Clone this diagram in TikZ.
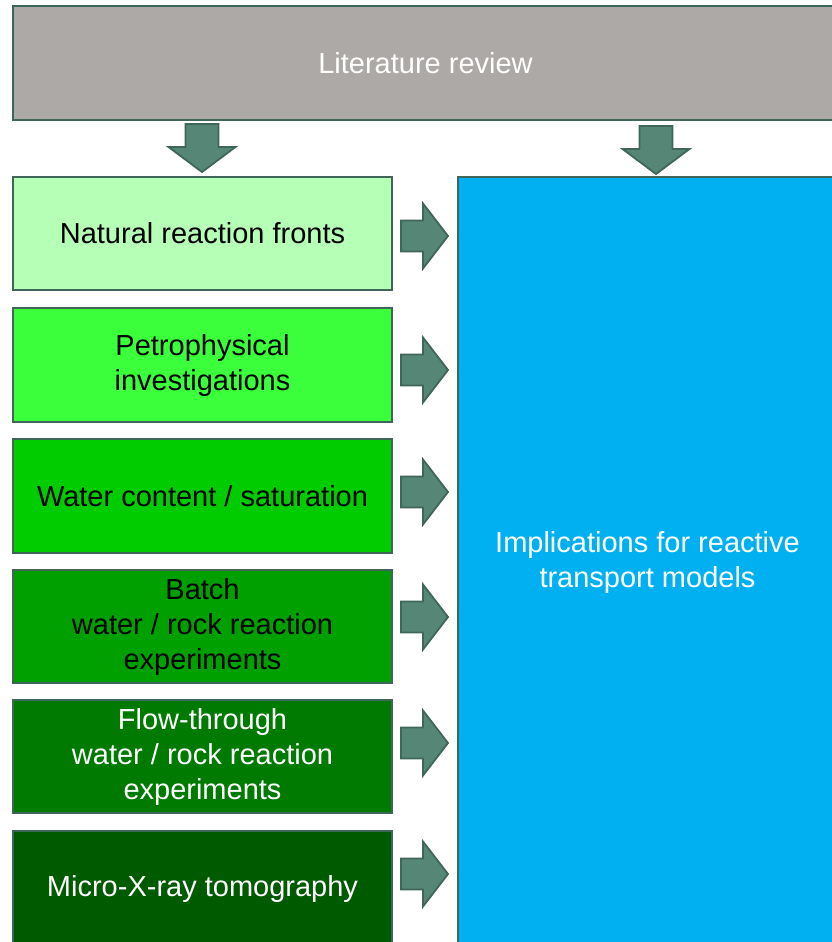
\documentclass[tikz,border=0pt]{standalone}
\usepackage{fontspec}
\setmainfont{Liberation Sans}
\definecolor{edgec}{HTML}{3F6659}
\definecolor{arrowc}{HTML}{558676}
\definecolor{greyc}{HTML}{ADA9A7}
\definecolor{bluec}{HTML}{00B0F0}
\definecolor{ga}{HTML}{B6FFB6}
\definecolor{gb}{HTML}{3AFF3A}
\definecolor{gc}{HTML}{00CC00}
\definecolor{gd}{HTML}{00A000}
\definecolor{ge}{HTML}{007A00}
\definecolor{gf}{HTML}{005A00}
\begin{document}
\begin{tikzpicture}[x=1pt,y=-1pt,
  boxstyle/.style={draw=edgec,line width=2pt,align=center,inner sep=0pt,
    font=\fontsize{29}{35}\selectfont},
  blockarrow/.style={draw=edgec,fill=arrowc,line width=1.8pt,line join=miter},
  rarrow/.pic={\path[blockarrow] (0,-15.5) -- (22,-15.5) -- (22,-32.5) -- (47,0) -- (22,32.5) -- (22,15.5) -- (0,15.5) -- cycle;},
  darrow/.pic={\path[blockarrow] (-16.5,0) -- (16.5,0) -- (16.5,23) -- (33.5,23) -- (0,48) -- (-33.5,23) -- (-16.5,23) -- (-16.5,0) -- cycle;}
]
\useasboundingbox (0,0) rectangle (832,942);
\clip (0,0) rectangle (832,942);
\fill[white] (0,0) rectangle (832,942);
% top box
\node[boxstyle,fill=greyc,text=white,minimum width=825pt,minimum height=114pt,anchor=north west] (lit) at (12,5) {Literature review};
% blue box
\node[boxstyle,fill=bluec,text=white,minimum width=379pt,minimum height=770pt,anchor=north west] (impl) at (457,176) {Implications for reactive\\transport models};
% left boxes
\node[boxstyle,fill=ga,text=black,minimum width=379pt,minimum height=113pt,anchor=north west] (b1) at (12,176) {Natural reaction fronts};
\node[boxstyle,fill=gb,text=black,minimum width=379pt,minimum height=114pt,anchor=north west] (b2) at (12,307) {Petrophysical\\investigations};
\node[boxstyle,fill=gc,text=black,minimum width=379pt,minimum height=114pt,anchor=north west] (b3) at (12,438) {Water content / saturation};
\node[boxstyle,fill=gd,text=black,minimum width=379pt,minimum height=113pt,anchor=north west] (b4) at (12,569) {Batch\\water / rock reaction\\experiments};
\node[boxstyle,fill=ge,text=white,minimum width=379pt,minimum height=113pt,anchor=north west] (b5) at (12,699) {Flow-through\\water / rock reaction\\experiments};
\node[boxstyle,fill=gf,text=white,minimum width=379pt,minimum height=116pt,anchor=north west] (b6) at (12,830) {Micro-X-ray tomography};
% down arrows
\pic at (202,124) {darrow};
\pic at (656,126) {darrow};
% right arrows
\pic at (401,236) {rarrow};
\pic at (401,370) {rarrow};
\pic at (401,492) {rarrow};
\pic at (401,617) {rarrow};
\pic at (401,743) {rarrow};
\pic at (401,874) {rarrow};
\end{tikzpicture}
\end{document}
